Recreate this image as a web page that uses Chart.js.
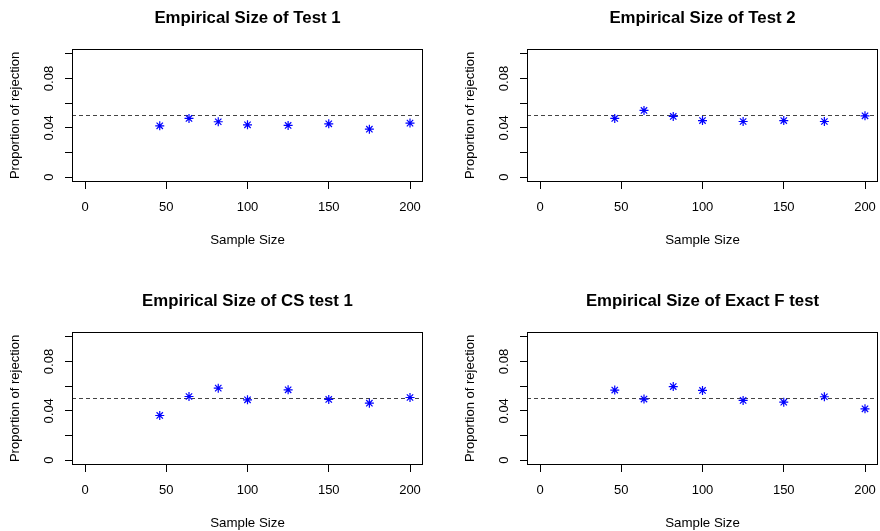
<!DOCTYPE html>
<html>
<head>
<meta charset="utf-8">
<script src="https://cdn.jsdelivr.net/npm/chart.js@4/dist/chart.umd.min.js"></script>
<style>
  body { margin: 0; background: #fff; }
  #wrap { position: relative; width: 880px; height: 531px; overflow: hidden; }
  #wrap canvas { position: absolute; }
</style>
</head>
<body>
<div id="wrap">
  <canvas id="p1" width="425" height="248" style="left:0;top:0"></canvas>
  <canvas id="p2" width="425" height="248" style="left:455px;top:0"></canvas>
  <canvas id="p3" width="425" height="248" style="left:0;top:283px"></canvas>
  <canvas id="p4" width="425" height="248" style="left:455px;top:283px"></canvas>
</div>
<script>
// sample sizes on the x axis (same for every panel)
const sampleSizes = [46, 64, 82, 100, 125, 150, 175, 200];

// rejection proportions
const sizeTest1 = [0.0416, 0.0476, 0.0449, 0.0424, 0.0419, 0.0432, 0.0389, 0.0438];
const sizeTest2 = [0.0476, 0.0541, 0.0492, 0.0459, 0.0451, 0.0459, 0.0451, 0.0497];
const sizeCS1   = [0.0362, 0.0516, 0.0584, 0.0489, 0.0570, 0.0492, 0.0462, 0.0508];
const sizeExactF = [0.0568, 0.0495, 0.0597, 0.0565, 0.0484, 0.0470, 0.0514, 0.0416];

const panelTitles = [
  'Empirical Size of Test 1',
  'Empirical Size of Test 2',
  'Empirical Size of CS test 1',
  'Empirical Size of Exact F test'
];

const xTicks = [0, 50, 100, 150, 200];
const yTicks = [0, 0.02, 0.04, 0.06, 0.08, 0.1];
const yTickLabels = ['0', '', '0.04', '', '0.08', ''];
const nominalLevel = 0.05;

Chart.defaults.font.family = '"Liberation Sans", Arial, Helvetica, sans-serif';
Chart.defaults.color = '#000';

// box around the plot + dashed reference line (like R's box() and abline)
const rFrame = {
  id: 'rFrame',
  beforeDatasetsDraw(chart) {
    const { ctx, chartArea: a, scales: { y } } = chart;
    const yy = y.getPixelForValue(nominalLevel);
    ctx.save();
    ctx.beginPath();
    ctx.rect(a.left, a.top, a.right - a.left, a.bottom - a.top);
    ctx.clip();
    ctx.setLineDash([4, 3]);
    ctx.strokeStyle = '#444';
    ctx.lineWidth = 1.2;
    ctx.beginPath();
    ctx.moveTo(a.left, yy);
    ctx.lineTo(a.right, yy);
    ctx.stroke();
    ctx.restore();
  },
  afterDraw(chart) {
    const { ctx, chartArea: a } = chart;
    ctx.save();
    ctx.strokeStyle = '#000';
    ctx.lineWidth = 1;
    const l = Math.round(a.left) + 0.5, t = Math.round(a.top) + 0.5;
    const r = Math.round(a.right) - 0.5, b = Math.round(a.bottom) - 0.5;
    ctx.strokeRect(l, t, r - l, b - t);
    ctx.restore();
  }
};

function makePanel(id, title, values) {
  const ctx = document.getElementById(id).getContext('2d');
  return new Chart(ctx, {
    type: 'scatter',
    data: {
      datasets: [{
        data: sampleSizes.map((n, i) => ({ x: n, y: values[i] })),
        pointStyle: 'star',
        pointRadius: 4.5,
        borderColor: '#0000ff',
        backgroundColor: '#0000ff',
        pointBorderWidth: 1.2
      }]
    },
    options: {
      responsive: false,
      animation: false,
      devicePixelRatio: 1,
      layout: { autoPadding: false, padding: { left: 0, right: 2, top: 0, bottom: 0 } },
      plugins: {
        legend: { display: false },
        tooltip: { enabled: false },
        title: {
          display: true,
          fullSize: false,
          text: title,
          color: '#000',
          font: { size: 16.8, weight: 'bold', lineHeight: 1.2 },
          padding: { top: 8, bottom: 20.8 }
        }
      },
      scales: {
        x: {
          type: 'linear',
          min: -8,
          max: 208,
          afterBuildTicks: s => { s.ticks = xTicks.map(v => ({ value: v })); },
          afterFit: s => { s.height = 66; s.paddingLeft = 0; s.paddingRight = 0; },
          ticks: { font: { size: 13 }, padding: 11, maxRotation: 0, autoSkip: false, color: '#000' },
          grid: { drawOnChartArea: false, drawTicks: true, tickLength: 7, tickColor: '#000' },
          border: { display: false },
          title: {
            display: true,
            text: 'Sample Size',
            font: { size: 13.3, lineHeight: 1.2 },
            padding: { top: 0, bottom: 0 }
          }
        },
        y: {
          type: 'linear',
          min: -0.004,
          max: 0.104,
          afterBuildTicks: s => { s.ticks = yTicks.map(v => ({ value: v })); },
          afterFit: s => { s.width = 72; s.paddingTop = 0; s.paddingBottom = 0; },
          ticks: {
            font: { size: 13 },
            padding: 3,
            minRotation: 90,
            maxRotation: 90,
            crossAlign: 'center',
            autoSkip: false,
            color: '#000',
            callback: (v, i) => yTickLabels[i]
          },
          grid: { drawOnChartArea: false, drawTicks: true, tickLength: 7, tickColor: '#000' },
          border: { display: false },
          title: {
            display: true,
            text: 'Proportion of rejection',
            font: { size: 13, lineHeight: 1.2 },
            padding: { top: 8, bottom: 0 }
          }
        }
      }
    },
    plugins: [rFrame]
  });
}

makePanel('p1', panelTitles[0], sizeTest1);
makePanel('p2', panelTitles[1], sizeTest2);
makePanel('p3', panelTitles[2], sizeCS1);
makePanel('p4', panelTitles[3], sizeExactF);
</script>
</body>
</html>
